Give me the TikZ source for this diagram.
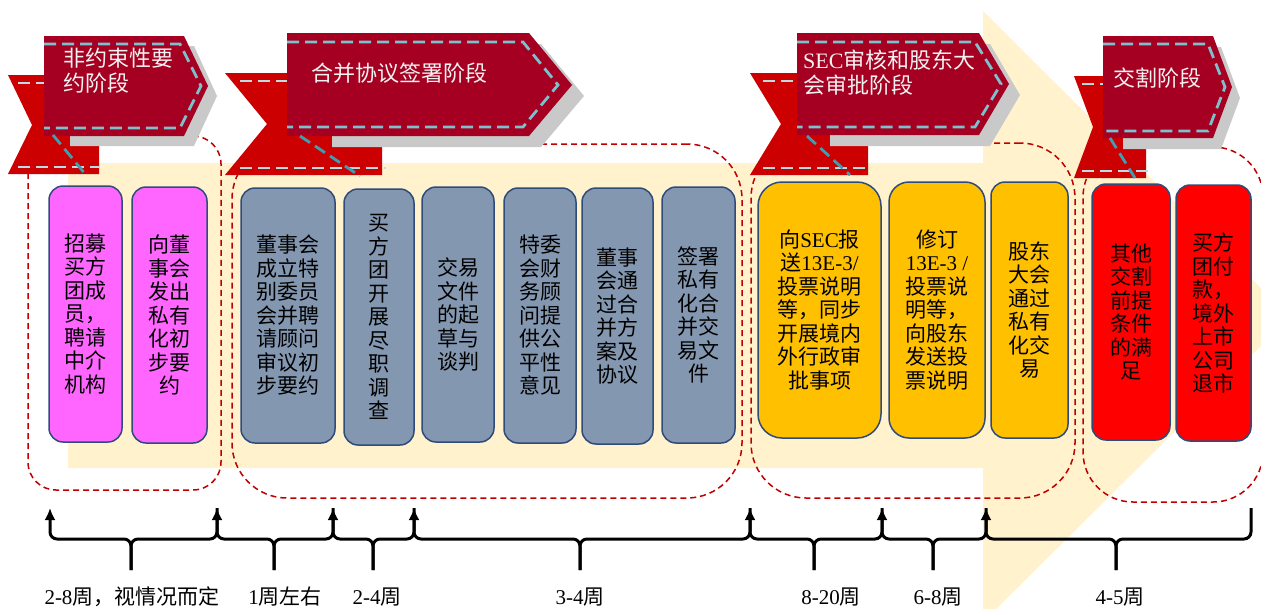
\documentclass[tikz,border=0pt]{standalone}
\usepackage{fontspec}
\setmainfont{Liberation Serif}
\newfontfamily\cjk{Noto Sans CJK SC}
\usetikzlibrary{arrows.meta}
\newcommand\lat[1]{{\rmfamily #1}}

\definecolor{bandyellow}{HTML}{FFF2CC}
\definecolor{groupred}{HTML}{C00000}
\definecolor{tailred}{HTML}{CC0000}
\definecolor{mainred}{HTML}{A50021}
\definecolor{shadowgray}{HTML}{C9C9C9}
\definecolor{stitchblue}{HTML}{7AC2CD}
\definecolor{stitchlight}{HTML}{B7DDE5}
\definecolor{foldblue}{HTML}{3E9FB2}
\definecolor{boxline}{HTML}{2F4B7C}
\definecolor{taskpink}{HTML}{FF66FF}
\definecolor{taskgray}{HTML}{8497B0}
\definecolor{taskyellow}{HTML}{FFC000}
\definecolor{taskred}{HTML}{FF0000}

\begin{document}
\begin{tikzpicture}
[x=1pt,y=-1pt,
grp/.style={draw=groupred,line width=1.5pt,dash pattern=on 6pt off 4pt,rounded corners=#1,inner sep=0pt},
grp/.default=55pt,
task/.style={draw=boxline,line width=1.5pt,rounded corners=14pt,inner sep=0pt,align=center,font=\cjk\fontsize{21}{23.5}\selectfont},
pinktask/.style={task,fill=taskpink},
graytask/.style={task,fill=taskgray},
yellowtask/.style={task,fill=taskyellow},
redtask/.style={task,fill=taskred},
tailfill/.style={fill=tailred},
ribbonfill/.style={fill=mainred},
shadowfill/.style={fill=shadowgray},
stitch/.style={draw=stitchblue,line width=2.8pt,dash pattern=on 12pt off 6pt},
tailstitch/.style={stitch,draw=stitchlight},
fold/.style={stitch,draw=foldblue},
bannertext/.style={anchor=west,align=left,inner sep=0pt,text=white!95!black,font=\cjk\fontsize{22}{25}\selectfont},
tl/.style={line width=3pt,rounded corners=7pt},
wk/.style={font=\cjk\fontsize{21}{23}\selectfont}]
\useasboundingbox (0,0) rectangle (1261,608);
\clip (0,0) rectangle (1261,608);

% big background arrow
\fill[bandyellow] (68,163) -- (983,163) -- (983,11) -- (1290,317) -- (983,622) -- (983,468) -- (68,468) -- cycle;

% phase frames
\node[grp=28pt,minimum width=193pt,minimum height=354pt] (g1) at (124.5,313) {};
\node[grp,minimum width=510pt,minimum height=354pt] (g2) at (487,321) {};
\node[grp,minimum width=324pt,minimum height=355pt] (g3) at (913,320.5) {};
\node[grp=50pt,minimum width=180pt,minimum height=355pt] (g4) at (1173,324.5) {};

% banner 1
\fill[tailfill] (8,75) -- (99,75) -- (99,174) -- (8,174) -- (32,125) -- cycle;
\draw[tailstitch] (18,83) -- (99,83);
\draw[tailstitch] (18,167) -- (100,167);
\fill[shadowfill] (70,46) -- (194,46) -- (217,96) -- (194,146) -- (70,146) -- cycle;
\fill[ribbonfill] (44,36) -- (184,36) -- (208,86) -- (184,136) -- (44,136) -- cycle;
\draw[stitch] (44,44) -- (180,44) -- (201,86) -- (180,128) -- (44,128);
\draw[fold] (53,135) -- (86,175);
\node[bannertext] (t1) at (63,70.5) {非约束性要\\约阶段};

% banner 2
\fill[tailfill] (225,73) -- (382,73) -- (382,175) -- (225,175) -- (267,124) -- cycle;
\draw[tailstitch] (240,81) -- (382,81);
\draw[tailstitch] (240,168) -- (386,168);
\fill[shadowfill] (332,44) -- (541,44) -- (584,96) -- (541,147) -- (332,147) -- cycle;
\fill[ribbonfill] (287,33) -- (529,33) -- (572,85) -- (529,136) -- (287,136) -- cycle;
\draw[stitch] (287,42) -- (523,42) -- (558,85) -- (523,127) -- (287,127);
\draw[fold] (300,136) -- (360,176);
\node[bannertext] (t2) at (311,73) {合并协议签署阶段};

% banner 3
\fill[tailfill] (750,73) -- (868,73) -- (868,175) -- (750,175) -- (781,124) -- cycle;
\draw[tailstitch] (763,81) -- (868,81);
\draw[tailstitch] (763,168) -- (871,168);
\fill[shadowfill] (830,44) -- (990,44) -- (1020,95) -- (990,146) -- (830,146) -- cycle;
\fill[ribbonfill] (797,33) -- (979,33) -- (1009,84) -- (979,135) -- (797,135) -- cycle;
\draw[stitch] (797,42) -- (975,42) -- (1001,84) -- (975,127) -- (797,127);
\draw[fold] (807,136) -- (850,175);
\node[bannertext] (t3) at (803,72.5) {\lat{SEC}审核和股东大\\会审批阶段};

% banner 4
\fill[tailfill] (1074,76) -- (1146,76) -- (1146,178) -- (1074,178) -- (1093,127) -- cycle;
\draw[tailstitch] (1082,84) -- (1146,84);
\draw[tailstitch] (1082,171) -- (1148,171);
\fill[shadowfill] (1123,47) -- (1221,47) -- (1240,98) -- (1221,149) -- (1123,149) -- cycle;
\fill[ribbonfill] (1103,36) -- (1213,36) -- (1232,87) -- (1213,138) -- (1103,138) -- cycle;
\draw[stitch] (1103,44) -- (1208,44) -- (1225,87) -- (1208,131) -- (1103,131);
\draw[fold] (1110,138) -- (1135,178);
\node[bannertext] (t4) at (1113,78) {交割阶段};

% steps
\node[pinktask,minimum width=73pt,minimum height=256pt] (b1) at (85.5,314) {招募\\买方\\团成\\员，\\聘请\\中介\\机构};
\node[pinktask,minimum width=75pt,minimum height=256pt] (b2) at (169.5,315) {向董\\事会\\发出\\私有\\化初\\步要\\约};
\node[graytask,minimum width=94pt,minimum height=255pt] (b3) at (288,315.5) {董事会\\成立特\\别委员\\会并聘\\请顾问\\审议初\\步要约};
\node[graytask,minimum width=70pt,minimum height=256pt] (b4) at (379,317) {买\\方\\团\\开\\展\\尽\\职\\调\\查};
\node[graytask,minimum width=72pt,minimum height=255pt] (b5) at (458,314.5) {交易\\文件\\的起\\草与\\谈判};
\node[graytask,minimum width=72pt,minimum height=255pt] (b6) at (540,315.5) {特委\\会财\\务顾\\问提\\供公\\平性\\意见};
\node[graytask,minimum width=71pt,minimum height=256pt] (b7) at (617.5,316) {董事\\会通\\过合\\并方\\案及\\协议};
\node[graytask,minimum width=73pt,minimum height=256pt] (b8) at (698.5,315) {签署\\私有\\化合\\并交\\易文\\件};
\node[yellowtask,rounded corners=24pt,minimum width=123pt,minimum height=256pt] (b9) at (819.5,310) {向\lat{SEC}报\\送\lat{13E-3/}\\投票说明\\等，同步\\开展境内\\外行政审\\批事项};
\node[yellowtask,rounded corners=20pt,minimum width=96pt,minimum height=256pt] (b10) at (937,310) {修订\\\lat{13E-3 /}\\投票说\\明等，\\向股东\\发送投\\票说明};
\node[yellowtask,minimum width=77pt,minimum height=256pt] (b11) at (1029.5,310) {股东\\大会\\通过\\私有\\化交\\易};
\node[redtask,minimum width=78pt,minimum height=256pt] (b12) at (1131,312) {其他\\交割\\前提\\条件\\的满\\足};
\node[redtask,minimum width=75pt,minimum height=256pt] (b13) at (1213.5,313) {买方\\团付\\款，\\境外\\上市\\公司\\退市};

% time line
\foreach \x [count=\i] in {50,217,333,414,750,882,986,1251}
  \coordinate (k\i) at (\x,508);
\foreach \x [count=\i] in {131,274,373,580,814,933,1116}
  \coordinate (c\i) at (\x,570);
\foreach \i/\j in {1/2,2/3,3/4,4/5,5/6,6/7,7/8} {
  \draw[tl,{Latex[length=12pt,width=11pt]}-] (k\i) |- ([yshift=31pt]c\i) -- (c\i);
  \draw[tl] (k\j) |- ([yshift=31pt]c\i) -- (c\i);
}
\node[wk] (l1) at (132,597) {\lat{2-8}周，视情况而定};
\node[wk] (l2) at (285,597) {\lat{1}周左右};
\node[wk] (l3) at (377,597) {\lat{2-4}周};
\node[wk] (l4) at (580,597) {\lat{3-4}周};
\node[wk] (l5) at (831,597) {\lat{8-20}周};
\node[wk] (l6) at (938,597) {\lat{6-8}周};
\node[wk] (l7) at (1120,597) {\lat{4-5}周};
\end{tikzpicture}
\end{document}
